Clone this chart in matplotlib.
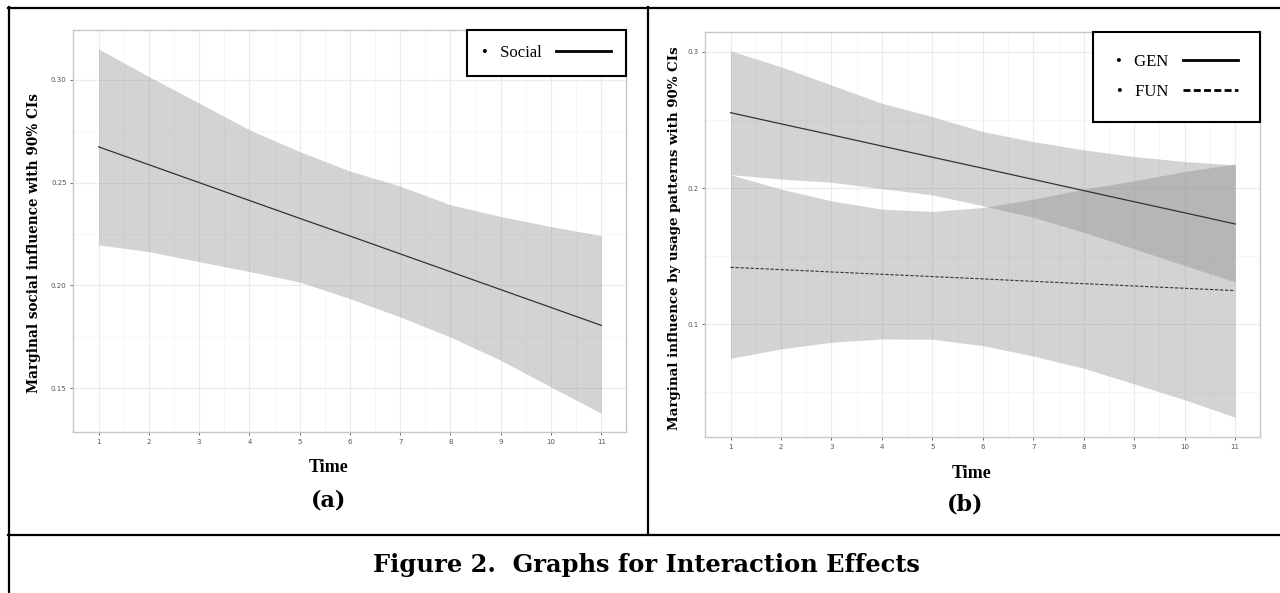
import matplotlib
matplotlib.use("Agg")
import matplotlib.pyplot as plt
from matplotlib.lines import Line2D

# values
time = [1, 2, 3, 4, 5, 6, 7, 8, 9, 10, 11]

social_fit = [0.2674, 0.2587, 0.2500, 0.2413, 0.2326, 0.2240, 0.2153, 0.2066, 0.1979, 0.1892, 0.1805]
social_hi = [0.3151, 0.3016, 0.2887, 0.2757, 0.2651, 0.2556, 0.2483, 0.2392, 0.2335, 0.2286, 0.2242]
social_lo = [0.2197, 0.2164, 0.2115, 0.2067, 0.2016, 0.1935, 0.1846, 0.1748, 0.1635, 0.1505, 0.1377]

gen_fit = [0.2553, 0.2471, 0.2390, 0.2308, 0.2226, 0.2145, 0.2063, 0.1981, 0.1899, 0.1818, 0.1736]
gen_hi = [0.3007, 0.2890, 0.2756, 0.2622, 0.2524, 0.2414, 0.2341, 0.2280, 0.2231, 0.2194, 0.2170]
gen_lo = [0.2098, 0.2066, 0.2042, 0.1995, 0.1950, 0.1870, 0.1785, 0.1675, 0.1554, 0.1431, 0.1309]

fun_fit = [0.1418, 0.1401, 0.1384, 0.1367, 0.1350, 0.1333, 0.1315, 0.1298, 0.1281, 0.1264, 0.1247]
fun_hi = [0.2098, 0.1992, 0.1906, 0.1845, 0.1828, 0.1857, 0.1918, 0.1992, 0.2053, 0.2121, 0.2176]
fun_lo = [0.0750, 0.0819, 0.0868, 0.0892, 0.0890, 0.0843, 0.0767, 0.0677, 0.0562, 0.0445, 0.0318]

yticks_a = [0.15, 0.20, 0.25, 0.30]
yticks_b = [0.1, 0.2, 0.3]

band_col = "#808080"
band_alpha = 0.34
line_col = "#333333"
leg_font = {"family": "Liberation Serif", "size": 12}


def style_axes(ax, yticks, yfmt):
    ax.set_xlim(0.5, 11.5)
    ax.set_xticks(time)
    ax.set_xticks([t + 0.5 for t in time[:-1]], minor=True)
    ax.set_yticks(yticks)
    ax.set_yticklabels([yfmt % v for v in yticks])
    ax.grid(which="major", color="#ebebeb", lw=0.8)
    ax.grid(which="minor", color="#f5f5f5", lw=0.6)
    ax.set_axisbelow(True)
    for s in ax.spines.values():
        s.set_color("#c8c8c8")
        s.set_linewidth(1.0)
    ax.tick_params(which="major", length=2, width=0.6, color="#555555",
                   labelsize=5, labelcolor="#555555", pad=3)
    ax.tick_params(which="minor", length=0)


def box_legend(ax, handles, labels, **kw):
    leg = ax.legend(handles, labels, loc="upper right", markerfirst=False,
                    borderaxespad=0, handlelength=3.3, fancybox=False,
                    framealpha=1, prop=leg_font, **kw)
    leg.get_frame().set_edgecolor("black")
    leg.get_frame().set_linewidth(1.5)
    return leg


fig = plt.figure(figsize=(12.8, 5.93), dpi=100)

# (a) social
ax1 = fig.add_axes([0.0574, 0.2715, 0.432, 0.678])
ax1.fill_between(time, social_lo, social_hi, color=band_col, alpha=band_alpha, lw=0)
ax1.plot(time, social_fit, color=line_col, lw=0.9)
ax1.set_ylim(0.1286, 0.3243)
style_axes(ax1, yticks_a, "%.2f")
ax1.set_yticks([0.175, 0.225, 0.275], minor=True)
ax1.set_ylabel("Marginal social influence with 90% CIs", fontsize=9.8,
               fontweight="bold", family="DejaVu Serif")
ax1.yaxis.set_label_coords(-0.059, 0.47)
h_soc = Line2D([], [], color="black", lw=2)
box_legend(ax1, [h_soc], ["•   Social"], borderpad=0.9, handletextpad=0.9)

# (b) usage patterns
ax2 = fig.add_axes([0.551, 0.2636, 0.4337, 0.6829])
ax2.fill_between(time, gen_lo, gen_hi, color=band_col, alpha=band_alpha, lw=0)
ax2.fill_between(time, fun_lo, fun_hi, color=band_col, alpha=band_alpha, lw=0)
ax2.plot(time, gen_fit, color=line_col, lw=0.9)
ax2.plot(time, fun_fit, color=line_col, lw=0.8, ls=(0, (3, 1.5)))
ax2.set_ylim(0.0175, 0.3147)
style_axes(ax2, yticks_b, "%.1f")
ax2.set_yticks([0.05, 0.15, 0.25], minor=True)
ax2.set_ylabel("Marginal influence by usage patterns with 90% CIs", fontsize=9.6,
               fontweight="bold", family="DejaVu Serif")
ax2.yaxis.set_label_coords(-0.044, 0.49)
h_gen = Line2D([], [], color="black", lw=2)
h_fun = Line2D([], [], color="black", lw=2, ls=(0, (2.5, 1.2)))
box_legend(ax2, [h_gen, h_fun], ["•   GEN", "•   FUN"], borderpad=1.35,
           handletextpad=0.9, labelspacing=0.8)

# axis titles and panel tags
W, H = 1280.0, 593.0
fig.text(329 / W, 1 - 468 / H, "Time", ha="center", va="center",
         fontsize=13, fontweight="bold", family="Liberation Serif")
fig.text(329 / W, 1 - 500 / H, "(a)", ha="center", va="center",
         fontsize=16, fontweight="bold", family="DejaVu Serif")
fig.text(972 / W, 1 - 473 / H, "Time", ha="center", va="center",
         fontsize=13, fontweight="bold", family="Liberation Serif")
fig.text(965 / W, 1 - 504 / H, "(b)", ha="center", va="center",
         fontsize=16, fontweight="bold", family="DejaVu Serif")
fig.text(646 / W, 1 - 565 / H, "Figure 2.  Graphs for Interaction Effects",
         ha="center", va="center", fontsize=17.4, fontweight="bold",
         family="DejaVu Serif")

# table frame around the panels
frame = [([8, 1280], [7.5, 7.5]), ([9, 9], [7, 593]),
         ([648, 648], [7, 535]), ([8, 1280], [535, 535])]
for xs, ys in frame:
    fig.add_artist(Line2D([x / W for x in xs], [1 - y / H for y in ys],
                          transform=fig.transFigure, color="black", lw=1.6))

fig.savefig("out.png", dpi=100)
